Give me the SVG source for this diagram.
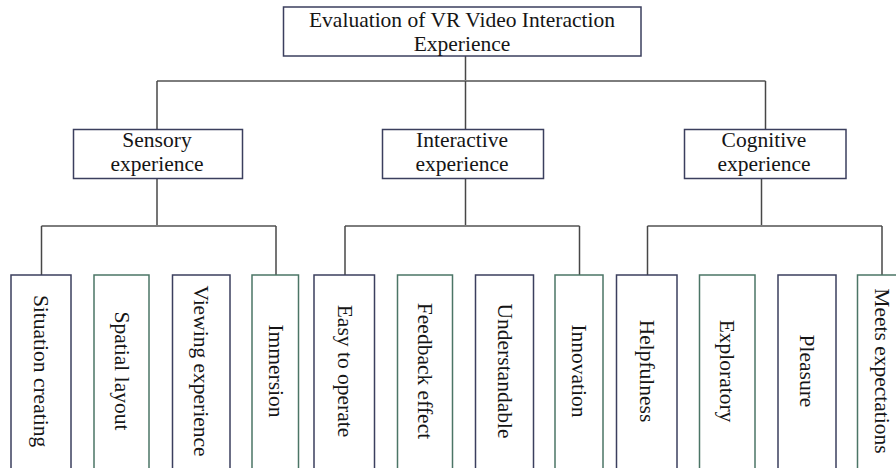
<svg xmlns="http://www.w3.org/2000/svg" width="896" height="468" viewBox="0 0 896 468">
<style>
.bg{fill:#ffffff}
.box{fill:#ffffff;stroke:#3b3f5e;stroke-width:1.5}
.boxg{fill:#ffffff;stroke:#4b7566;stroke-width:1.5}
.t{font-family:"Liberation Serif","Times New Roman",serif;font-size:21.5px;fill:#151515;text-anchor:middle}
.h{stroke:#7d7d7d;stroke-width:2;fill:none}
.v{stroke:#474747;stroke-width:1.5;fill:none}
</style>
<rect class="bg" x="0" y="0" width="896" height="468"/>
<g id="connectors">
<line class="v" x1="465.5" y1="56" x2="465.5" y2="81"/>
<line class="h" x1="157" y1="81" x2="765.5" y2="81"/>
<line class="v" x1="157" y1="81" x2="157" y2="129"/>
<line class="v" x1="465.5" y1="81" x2="465.5" y2="129"/>
<line class="v" x1="765.5" y1="81" x2="765.5" y2="129"/>
<line class="v" x1="157" y1="178" x2="157" y2="226"/>
<line class="v" x1="465.5" y1="178" x2="465.5" y2="226"/>
<line class="v" x1="761.5" y1="178" x2="761.5" y2="226"/>
<line class="h" x1="41.5" y1="226" x2="276" y2="226"/>
<line class="h" x1="345" y1="226" x2="579.5" y2="226"/>
<line class="h" x1="647.5" y1="226" x2="882" y2="226"/>
<line class="v" x1="41.5" y1="226" x2="41.5" y2="275"/>
<line class="v" x1="276" y1="226" x2="276" y2="275"/>
<line class="v" x1="345" y1="226" x2="345" y2="275"/>
<line class="v" x1="579.5" y1="226" x2="579.5" y2="275"/>
<line class="v" x1="647.5" y1="226" x2="647.5" y2="275"/>
<line class="v" x1="882" y1="226" x2="882" y2="275"/>
</g>
<g id="root">
<rect class="box" x="283.5" y="7" width="357.5" height="49"/>
<text class="t" x="462" y="27">Evaluation of VR Video Interaction</text>
<text class="t" x="462" y="51">Experience</text>
</g>
<g id="sensory">
<rect class="box" x="73.5" y="129.5" width="169" height="49"/>
<text class="t" x="157" y="147">Sensory</text>
<text class="t" x="157" y="171">experience</text>
</g>
<g id="interactive">
<rect class="box" x="382.5" y="129.5" width="161" height="49"/>
<text class="t" x="462" y="147">Interactive</text>
<text class="t" x="462" y="171">experience</text>
</g>
<g id="cognitive">
<rect class="box" x="684.5" y="129.5" width="161.5" height="49"/>
<text class="t" x="764" y="147">Cognitive</text>
<text class="t" x="764" y="171">experience</text>
</g>
<g id="leaf1"><rect class="box" x="11" y="275" width="60" height="200"/><text class="t" transform="translate(41,371) rotate(90)" y="7">Situation creating</text></g>
<g id="leaf2"><rect class="boxg" x="94" y="275" width="55" height="200"/><text class="t" transform="translate(121.5,371) rotate(90)" y="7">Spatial layout</text></g>
<g id="leaf3"><rect class="box" x="172.5" y="275" width="57.5" height="200"/><text class="t" transform="translate(201,371) rotate(90)" y="7">Viewing experience</text></g>
<g id="leaf4"><rect class="boxg" x="252" y="275" width="46.5" height="200"/><text class="t" transform="translate(276,371) rotate(90)" y="7">Immersion</text></g>
<g id="leaf5"><rect class="box" x="314" y="275" width="60.5" height="200"/><text class="t" transform="translate(344.5,371) rotate(90)" y="7">Easy to operate</text></g>
<g id="leaf6"><rect class="boxg" x="397.5" y="275" width="55" height="200"/><text class="t" transform="translate(425,371) rotate(90)" y="7">Feedback effect</text></g>
<g id="leaf7"><rect class="box" x="475.5" y="275" width="58" height="200"/><text class="t" transform="translate(504.5,371) rotate(90)" y="7">Understandable</text></g>
<g id="leaf8"><rect class="boxg" x="555" y="275" width="48" height="200"/><text class="t" transform="translate(579,371) rotate(90)" y="7">Innovation</text></g>
<g id="leaf9"><rect class="box" x="616.5" y="275" width="60.5" height="200"/><text class="t" transform="translate(647,371) rotate(90)" y="7">Helpfulness</text></g>
<g id="leaf10"><rect class="boxg" x="699.5" y="275" width="55.5" height="200"/><text class="t" transform="translate(727,371) rotate(90)" y="7">Exploratory</text></g>
<g id="leaf11"><rect class="box" x="778" y="275" width="58" height="200"/><text class="t" transform="translate(807,371) rotate(90)" y="7">Pleasure</text></g>
<g id="leaf12"><rect class="boxg" x="857.5" y="275" width="50" height="200"/><text class="t" transform="translate(882,371) rotate(90)" y="7">Meets expectations</text></g>
</svg>
